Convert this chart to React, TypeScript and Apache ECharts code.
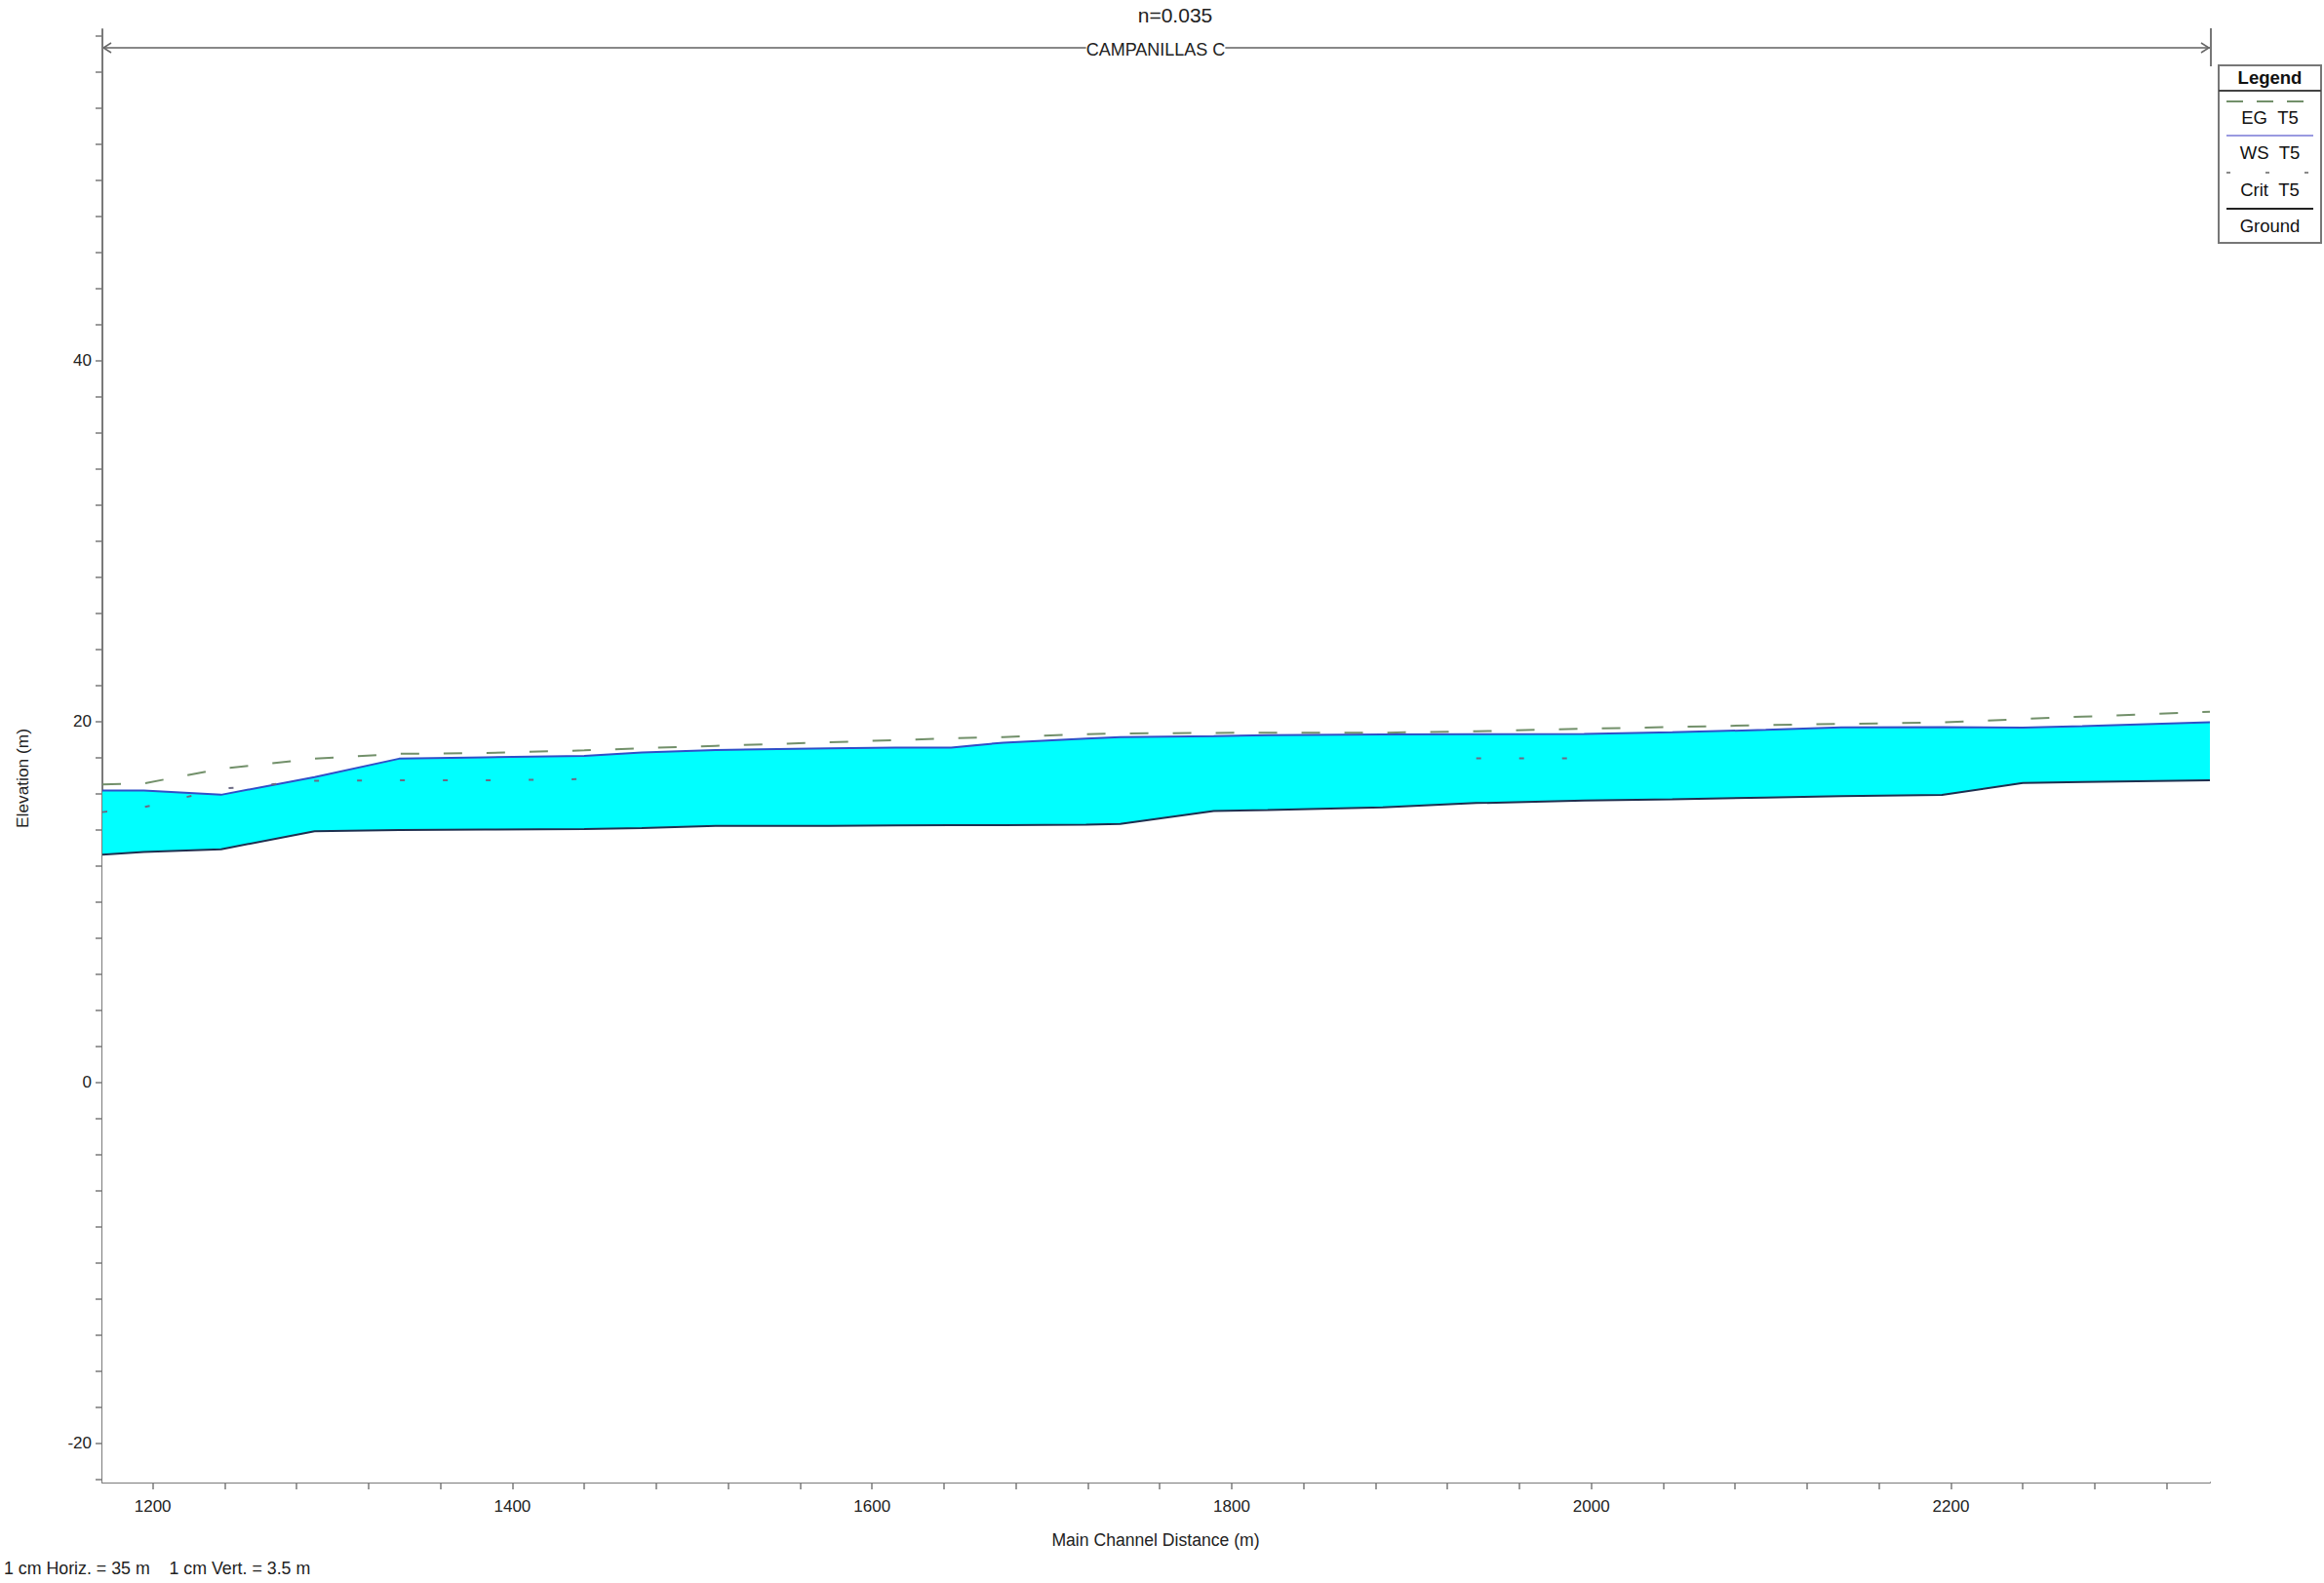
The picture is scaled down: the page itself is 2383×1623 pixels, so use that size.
import React, { useEffect, useRef } from "react";
import * as echarts from "echarts";

// Main channel stations (m)
const stations = [1172, 1195, 1238, 1290, 1337, 1385, 1440, 1472, 1513, 1576, 1613, 1644, 1673, 1719, 1738, 1790, 1820, 1884, 1936, 1996, 2045, 2097, 2139, 2195, 2240, 2273, 2344];
// Ground (channel bed) elevation (m)
const ground = [12.6, 12.75, 12.9, 13.9, 13.97, 13.99, 14.02, 14.08, 14.19, 14.2, 14.22, 14.23, 14.24, 14.26, 14.3, 15.02, 15.07, 15.23, 15.46, 15.6, 15.67, 15.77, 15.85, 15.91, 16.58, 16.63, 16.72];
// Water surface WS T5 (m)
const wsT5 = [16.15, 16.15, 15.92, 16.9, 17.92, 18.0, 18.08, 18.27, 18.4, 18.49, 18.54, 18.54, 18.81, 19.04, 19.11, 19.17, 19.22, 19.26, 19.28, 19.29, 19.38, 19.52, 19.65, 19.67, 19.64, 19.72, 19.94];
// Energy grade EG T5 (m)
const egT5 = [16.5, 16.55, 17.36, 17.92, 18.19, 18.24, 18.38, 18.5, 18.63, 18.83, 18.95, 19.05, 19.12, 19.28, 19.32, 19.35, 19.36, 19.36, 19.44, 19.58, 19.68, 19.78, 19.85, 19.93, 20.12, 20.25, 20.52];
// Critical depth Crit T5 (m) (null where not computed)
const critT5: (number | null)[] = [14.96, 15.23, 16.25, 16.7, 16.72, 16.72, 16.79, null, null, null, null, null, null, null, null, null, null, null, 17.94, 17.94, null, null, null, null, null, null, null];

const xLabelValues = [1200, 1400, 1600, 1800, 2000, 2200];
const xTickValues = [1200, 1240, 1280, 1320, 1360, 1400, 1440, 1480, 1520, 1560, 1600, 1640, 1680, 1720, 1760, 1800, 1840, 1880, 1920, 1960, 2000, 2040, 2080, 2120, 2160, 2200, 2240, 2280, 2320];
const yLabelValues = [-20, 0, 20, 40];
const yTickValues = [-22, -20, -18, -16, -14, -12, -10, -8, -6, -4, -2, 0, 2, 4, 6, 8, 10, 12, 14, 16, 18, 20, 22, 24, 26, 28, 30, 32, 34, 36, 38, 40, 42, 44, 46, 48, 50, 52, 54, 56, 58];

const FONT = "'Liberation Sans', Arial, sans-serif";
const AXIS_COLOR = "#7a7a7a";

export default function App() {
  const ref = useRef<HTMLDivElement>(null);

  useEffect(() => {
    if (!ref.current) return;
    const chart = echarts.init(ref.current, null, { renderer: "svg" });

    const groundData = stations.map((s, i) => [s, ground[i]]);
    const wsData = stations.map((s, i) => [s, wsT5[i]]);
    const egData = stations.map((s, i) => [s, egT5[i]]);
    const critData = stations.map((s, i) => [s, critT5[i]]);

    const L = { x1: 2275, x2: 2380 };
    const legendLine = (y: number, color: string, dash: number[] | null, w = 2) => ({
      type: "line",
      shape: { x1: L.x1 + 8, y1: y, x2: L.x2 - 8, y2: y },
      style: { stroke: color, lineWidth: w, lineDash: dash || undefined },
      z: 102,
    });
    const legendText = (y: number, text: string, bold = false, size = 18.5) => ({
      type: "text",
      x: (L.x1 + L.x2) / 2,
      y,
      style: {
        text,
        fontFamily: FONT,
        fontSize: size,
        fontWeight: bold ? "bold" : "normal",
        fill: "#111",
        align: "center",
        verticalAlign: "middle",
      },
      z: 102,
    });

    const plain = (v: number) => String(v);

    chart.setOption({
      animation: false,
      backgroundColor: "#ffffff",
      grid: { left: 105, right: 2383 - 2266, top: 30, bottom: 1623 - 1520, containLabel: false },
      xAxis: {
        type: "value",
        min: 1172,
        max: 2344,
        axisLine: { show: true, onZero: false, lineStyle: { color: AXIS_COLOR, width: 2 } },
        axisTick: { show: true, length: 7, customValues: xTickValues, lineStyle: { color: AXIS_COLOR, width: 1.5 } },
        axisLabel: {
          customValues: xLabelValues,
          formatter: plain,
          margin: 16,
          fontFamily: FONT,
          fontSize: 17,
          color: "#222",
        },
        splitLine: { show: false },
      },
      yAxis: {
        type: "value",
        min: -22.2,
        max: 58.35,
        axisLine: { show: true, onZero: false, lineStyle: { color: AXIS_COLOR, width: 2 } },
        axisTick: { show: true, length: 7, customValues: yTickValues, lineStyle: { color: AXIS_COLOR, width: 1.5 } },
        axisLabel: {
          customValues: yLabelValues,
          formatter: plain,
          margin: 11,
          fontFamily: FONT,
          fontSize: 17,
          color: "#222",
        },
        splitLine: { show: false },
      },
      series: [
        {
          name: "WS T5",
          type: "line",
          data: wsData,
          symbol: "none",
          lineStyle: { color: "#2f4fc8", width: 2 },
          areaStyle: { color: "#00ffff", opacity: 1, origin: "start" },
          z: 2,
        },
        {
          name: "Ground",
          type: "line",
          data: groundData,
          symbol: "none",
          lineStyle: { color: "#1d2f4f", width: 2 },
          areaStyle: { color: "#ffffff", opacity: 1, origin: "start" },
          z: 3,
        },
        {
          name: "EG T5",
          type: "line",
          data: egData,
          symbol: "none",
          lineStyle: { color: "#72906a", width: 2, type: [19, 25] },
          z: 6,
        },
        {
          name: "Crit T5",
          type: "line",
          data: critData,
          symbol: "none",
          connectNulls: false,
          lineStyle: { color: "#6c6a84", width: 2, type: [5, 39] },
          z: 6,
        },
      ],
      graphic: [
        // title
        {
          type: "text",
          x: 1205,
          y: 15,
          style: { text: "n=0.035", fontFamily: FONT, fontSize: 21, fill: "#222", align: "center", verticalAlign: "middle" },
        },
        // reach arrow line
        {
          type: "line",
          shape: { x1: 105, y1: 49, x2: 2266, y2: 49 },
          style: { stroke: "#888", lineWidth: 2 },
        },
        { type: "polyline", shape: { points: [[114, 44], [106, 49], [114, 54]] }, style: { stroke: "#666", lineWidth: 1.5, fill: null } },
        { type: "polyline", shape: { points: [[2257, 44], [2265, 49], [2257, 54]] }, style: { stroke: "#666", lineWidth: 1.5, fill: null } },
        { type: "line", shape: { x1: 2267, y1: 29, x2: 2267, y2: 68 }, style: { stroke: "#777", lineWidth: 2 } },
        {
          type: "text",
          x: 1185,
          y: 51,
          style: {
            text: "CAMPANILLAS C",
            fontFamily: FONT,
            fontSize: 18,
            fill: "#222",
            align: "center",
            verticalAlign: "middle",
            backgroundColor: "#ffffff",
            padding: [1, 0],
          },
          z: 10,
        },
        // axis names
        {
          type: "text",
          x: 23,
          y: 798,
          rotation: Math.PI / 2,
          style: { text: "Elevation (m)", fontFamily: FONT, fontSize: 17.3, fill: "#222", align: "center", verticalAlign: "middle" },
        },
        {
          type: "text",
          x: 1185,
          y: 1579,
          style: { text: "Main Channel Distance (m)", fontFamily: FONT, fontSize: 17.6, fill: "#222", align: "center", verticalAlign: "middle" },
        },
        {
          type: "text",
          x: 4,
          y: 1608,
          style: {
            text: "1 cm Horiz. = 35 m\u00a0\u00a0\u00a0\u00a01 cm Vert. = 3.5 m",
            fontFamily: FONT,
            fontSize: 17.8,
            fill: "#222",
            align: "left",
            verticalAlign: "middle",
          },
        },
        // legend box
        {
          type: "rect",
          shape: { x: L.x1, y: 67, width: L.x2 - L.x1, height: 182 },
          style: { fill: "#ffffff", stroke: "#777", lineWidth: 2 },
          z: 100,
        },
        {
          type: "line",
          shape: { x1: L.x1, y1: 93, x2: L.x2, y2: 93 },
          style: { stroke: "#444", lineWidth: 2 },
          z: 101,
        },
        legendText(79, "Legend", true, 18.5),
        legendLine(104, "#72906a", [17, 14]),
        legendText(120, "EG\u00a0\u00a0T5"),
        legendLine(139, "#9a9ae0", null),
        legendText(156, "WS\u00a0\u00a0T5"),
        legendLine(177, "#8a8a8a", [4, 36]),
        legendText(194, "Crit\u00a0\u00a0T5"),
        legendLine(214, "#222", null),
        legendText(231, "Ground"),
      ],
    });

    return () => chart.dispose();
  }, []);

  return (
    <div
      ref={ref}
      style={{ position: "fixed", left: 0, top: 0, width: 2383, height: 1623, background: "#fff" }}
    />
  );
}
